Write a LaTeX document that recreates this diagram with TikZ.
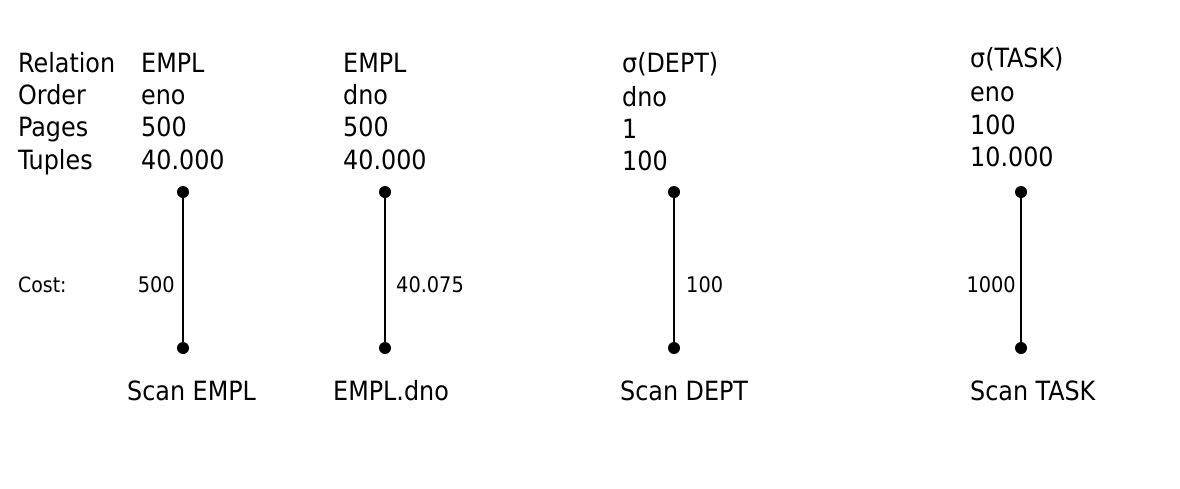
\documentclass[tikz,border=0pt]{standalone}
\usepackage{fontspec}
\setmainfont{DejaVu Sans Condensed}
\usetikzlibrary{positioning}

\begin{document}
\begin{tikzpicture}[x=1pt,y=-1pt,
        txt/.style={anchor=base west, inner sep=0pt, font=\fontsize{26.5}{31}\selectfont},
        costlbl/.style={inner sep=0pt, font=\fontsize{21.5}{25}\selectfont},
        dot/.style={circle, fill=black, inner sep=0pt, minimum size=12pt}]
        \useasboundingbox (0,0) rectangle (1180,488);

        % Intestazioni
        \node[txt] (rel) at (18,72) {Relation};
        \node[txt] (ord) at (18,104) {Order};
        \node[txt] (pag) at (18,136.5) {Pages};
        \node[txt] (tup) at (18,169) {Tuples};
        \node[txt, font=\fontsize{21}{25}\selectfont] (cost) at (18,292) {Cost:};

        % Scan EMPL
        \node[txt] (relA) at (141,72) {EMPL};
        \node[txt] (ordA) at (141,104) {eno};
        \node[txt] (pagA) at (141,136.5) {500};
        \node[txt] (tupA) at (141,169) {40.000};
        \node[dot] (topA) at (183,192) {};
        \node[dot] (botA) at (183,348) {};
        \draw[line width=1.7pt] (topA) -- (botA); % ramo
        \node[costlbl, anchor=base east] (costA) at (175,292) {500};
        \node[txt] (opA) at (127,400) {Scan EMPL};

        % Indice EMPL.dno
        \node[txt] (relB) at (343,72) {EMPL};
        \node[txt] (ordB) at (343,104) {dno};
        \node[txt] (pagB) at (343,136.5) {500};
        \node[txt] (tupB) at (343,169) {40.000};
        \node[dot] (topB) at (385,192) {};
        \node[dot] (botB) at (385,348) {};
        \draw[line width=1.7pt] (topB) -- (botB); % ramo
        \node[costlbl, anchor=base west] (costB) at (396,292) {40.075};
        \node[txt] (opB) at (333,400) {EMPL.dno};

        % Scan DEPT
        \node[txt] (relC) at (622,72) {σ(DEPT)};
        \node[txt] (ordC) at (622,106) {dno};
        \node[txt] (pagC) at (622,138) {1};
        \node[txt] (tupC) at (622,170) {100};
        \node[dot] (topC) at (674,192) {};
        \node[dot] (botC) at (674,348) {};
        \draw[line width=1.7pt] (topC) -- (botC); % ramo
        \node[costlbl, anchor=base west] (costC) at (686,292) {100};
        \node[txt] (opC) at (620,400) {Scan DEPT};

        % Scan TASK
        \node[txt] (relD) at (970,67.5) {σ(TASK)};
        \node[txt] (ordD) at (970,101.5) {eno};
        \node[txt] (pagD) at (970,134) {100};
        \node[txt] (tupD) at (970,166) {10.000};
        \node[dot] (topD) at (1021,192) {};
        \node[dot] (botD) at (1021,348) {};
        \draw[line width=1.7pt] (topD) -- (botD); % ramo
        \node[costlbl, anchor=base east] (costD) at (1016,292) {1000};
        \node[txt] (opD) at (970,400) {Scan TASK};
    \end{tikzpicture}
\end{document}
